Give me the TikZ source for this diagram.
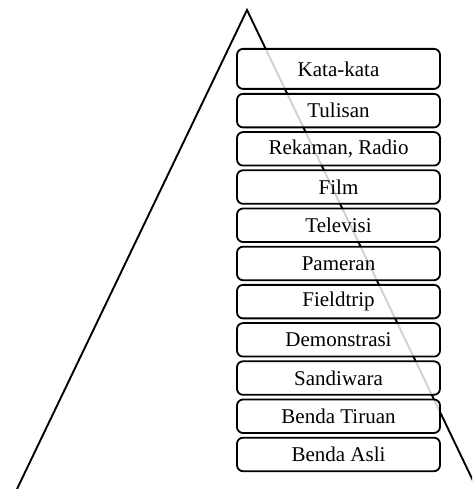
\documentclass[tikz,border=0pt]{standalone}
\usepackage{fontspec}
\setmainfont{Liberation Serif}
\begin{document}
\begin{tikzpicture}[x=1pt,y=1pt,
  level/.style={draw=black, line width=1.8pt, rounded corners=6pt,
    fill=white, fill opacity=0.82, text opacity=1,
    minimum width=203pt, inner sep=0pt, anchor=north,
    font=\fontsize{21}{22}\selectfont},
  side/.style={line width=1.9pt, black}]
\useasboundingbox (0,0) rectangle (472,489);
\clip (0,0) rectangle (472,489);
% triangle sides (the apex and the far ends of its two slopes)
\coordinate (apex) at (247,479);
\coordinate (baseL) at (17,0);
\coordinate (baseR) at (477,0);
\draw[side] (baseL) -- (apex) -- (baseR);
% the stacked levels, from the top down
\node[level, minimum height=40pt] (kata) at (338.5,441) {Kata-kata};
\foreach \name/\txt [count=\i from 0] in {
    tulisan/Tulisan, rekaman/{Rekaman, Radio}, film/Film,
    tv/Televisi, pameran/Pameran, field/Fieldtrip,
    demo/Demonstrasi, sandi/Sandiwara, tiruan/Benda Tiruan,
    asli/Benda Asli}
  \node[level, minimum height=33.5pt] (\name) at (338.5,{489-93-38.2*\i}) {\txt};
\end{tikzpicture}
\end{document}
